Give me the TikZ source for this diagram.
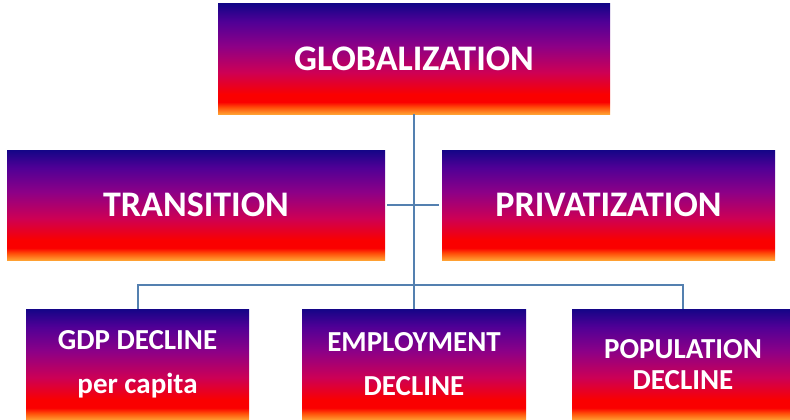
\documentclass[tikz,border=0pt]{standalone}
\usepackage{fontspec}
\setmainfont{Carlito}
\definecolor{orangeA}{RGB}{255,160,50}
\definecolor{orangeB}{RGB}{255,80,10}
\definecolor{redA}{RGB}{250,0,0}
\definecolor{crimA}{RGB}{205,0,85}
\definecolor{purpA}{RGB}{140,0,135}
\definecolor{violA}{RGB}{80,0,150}
\definecolor{navyA}{RGB}{20,5,135}
\definecolor{linkc}{RGB}{84,128,176}
\pgfdeclareverticalshading{boxgrad}{100bp}{
  color(0bp)=(orangeA);
  color(25bp)=(orangeA);
  color(28bp)=(orangeB);
  color(30.5bp)=(redA);
  color(34bp)=(redA);
  color(44bp)=(crimA);
  color(56bp)=(purpA);
  color(67bp)=(violA);
  color(75bp)=(navyA);
  color(100bp)=(navyA)}
\tikzset{
  gbox/.style={shading=boxgrad, inner sep=0pt, outer sep=0pt, anchor=north west,
    text=white, font=\bfseries, align=center},
  link/.style={draw=linkc, line width=2pt}
}
\begin{document}
\begin{tikzpicture}[x=1pt,y=1pt]
\useasboundingbox (0,0) rectangle (790,-420);
\node[gbox, minimum width=392pt, minimum height=110pt, font=\bfseries\fontsize{36}{40}\selectfont] (glob) at (218,-4) {GLOBALIZATION};
\node[gbox, minimum width=378pt, minimum height=110pt, font=\bfseries\fontsize{36}{40}\selectfont] (trans) at (7,-150) {TRANSITION};
\node[gbox, minimum width=333pt, minimum height=110pt, font=\bfseries\fontsize{36}{40}\selectfont] (priv) at (442,-150) {PRIVATIZATION};
\node[gbox, minimum width=223pt, minimum height=111pt, font=\bfseries\fontsize{29}{44}\selectfont] (gdp) at (26,-309) {GDP DECLINE\\per capita};
\node[gbox, minimum width=224pt, minimum height=111pt, font=\bfseries\fontsize{29}{44}\selectfont] (emp) at (302,-309) {EMPLOYMENT\\DECLINE};
\node[gbox, minimum width=222pt, minimum height=111pt, font=\bfseries\fontsize{29}{31}\selectfont] (pop) at (572,-309) {POPULATION\\DECLINE};
\coordinate (bar) at (0,-285);
\draw[link] (glob.south) -- (emp.north);
\draw[link, shorten <=2pt, shorten >=3pt] (trans.east) -- (priv.west);
\draw[link] (gdp.north) -- (gdp.north |- bar) -- (pop.north |- bar) -- (pop.north);
\end{tikzpicture}
\end{document}
